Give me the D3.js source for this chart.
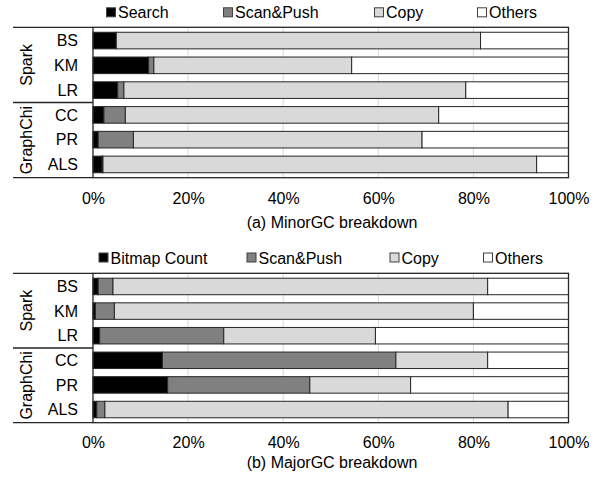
<!DOCTYPE html>
<html>
<head>
<meta charset="utf-8">
<script src="https://cdn.jsdelivr.net/npm/d3@7"></script>
<style>
  html, body { margin: 0; padding: 0; background: #fff; }
  svg { display: block; font-family: "Liberation Sans", Arial, sans-serif; }
</style>
</head>
<body>
<svg id="chart" width="597" height="480"></svg>
<script>
// Workloads, grouped by framework
const categories = ["BS", "KM", "LR", "CC", "PR", "ALS"];
const groupNames = ["Spark", "GraphChi"];
const groupMembers = [["BS", "KM", "LR"], ["CC", "PR", "ALS"]];
const tickValues = [0, 20, 40, 60, 80, 100];
const tickLabels = ["0%", "20%", "40%", "60%", "80%", "100%"];

// (a) MinorGC breakdown, percent of GC time
const minorSeries = ["Search", "Scan&Push", "Copy", "Others"];
const minorSearch   = [4.9, 11.7, 5.2, 2.3, 1.1, 1.9];
const minorScanPush = [0.0, 1.1, 1.3, 4.5, 7.4, 0.2];
const minorCopy     = [76.6, 41.6, 71.9, 65.9, 60.7, 91.2];
const minorOthers   = [18.5, 45.6, 21.6, 27.3, 30.8, 6.7];

// (b) MajorGC breakdown, percent of GC time
const majorSeries = ["Bitmap Count", "Scan&Push", "Copy", "Others"];
const majorBitmap   = [1.1, 0.5, 1.4, 14.6, 15.7, 0.8];
const majorScanPush = [3.1, 4.0, 26.1, 49.1, 29.9, 1.7];
const majorCopy     = [78.8, 75.5, 31.9, 19.3, 21.2, 84.8];
const majorOthers   = [17.0, 20.0, 40.6, 17.0, 33.2, 12.7];

const fills = ["#000000", "#808080", "#d9d9d9", "#ffffff"];
const edge = "#262626";

const svg = d3.select("#chart");
const x = d3.scaleLinear().domain([0, 100]).range([93, 568.5]);
const labelLeft = 13;

function panel(opts) {
  const { series, values, caption, top, bottom, legendY, legendX, tickY, captionY } = opts;
  const g = svg.append("g");
  const y = d3.scaleBand().domain(categories).range([top, bottom])
    .paddingInner(0.33).paddingOuter(0.2);

  // vertical gridlines
  g.append("g").selectAll("line").data(tickValues.slice(1, -1)).join("line")
    .attr("x1", d => x(d)).attr("x2", d => x(d))
    .attr("y1", top).attr("y2", bottom)
    .attr("stroke", "#d9d9d9").attr("stroke-width", 1);

  // stacked bars
  const rows = categories.map((c, i) => {
    let acc = 0;
    return values.map((arr, k) => {
      const seg = { cat: c, k, x0: acc, x1: acc + arr[i] };
      acc += arr[i];
      return seg;
    });
  }).flat();
  g.append("g").selectAll("rect").data(rows).join("rect")
    .attr("x", d => x(d.x0))
    .attr("width", d => Math.max(0, x(d.x1) - x(d.x0)))
    .attr("y", d => y(d.cat))
    .attr("height", y.bandwidth())
    .attr("fill", d => fills[d.k])
    .attr("stroke", edge).attr("stroke-width", 1);

  // frame of the plot and the label table lines
  g.append("rect")
    .attr("x", x(0)).attr("y", top)
    .attr("width", x(100) - x(0)).attr("height", bottom - top)
    .attr("fill", "none").attr("stroke", edge).attr("stroke-width", 1.3);
  const lastOfFirst = groupMembers[0][groupMembers[0].length - 1];
  const firstOfSecond = groupMembers[1][0];
  const sepY = (y(lastOfFirst) + y.bandwidth() + y(firstOfSecond)) / 2;
  g.append("g").selectAll("line").data([top, sepY, bottom]).join("line")
    .attr("x1", labelLeft).attr("x2", x(0))
    .attr("y1", d => d).attr("y2", d => d)
    .attr("stroke", edge).attr("stroke-width", 1.3);

  // category labels
  g.append("g").selectAll("text").data(categories).join("text")
    .attr("x", 78).attr("y", d => y(d) + y.bandwidth() / 2 + 5.8)
    .attr("text-anchor", "end").attr("font-size", 16).attr("fill", "#000")
    .text(d => d);

  // group labels, rotated
  const bounds = [[top, sepY], [sepY, bottom]];
  g.append("g").selectAll("text").data(groupNames).join("text")
    .attr("transform", (d, i) => `translate(31.5,${(bounds[i][0] + bounds[i][1]) / 2}) rotate(-90)`)
    .attr("text-anchor", "middle").attr("font-size", 16).attr("fill", "#000")
    .text(d => d);

  // x axis tick labels
  const axis = d3.axisBottom(x).tickValues(tickValues)
    .tickFormat((d, i) => tickLabels[i]).tickSize(0).tickPadding(0);
  const ax = g.append("g").attr("transform", `translate(0,${tickY})`).call(axis);
  ax.select(".domain").remove();
  ax.selectAll("text").attr("font-size", 16).attr("font-family", null)
    .attr("fill", "#000").attr("dy", 0).attr("y", 0);

  // legend
  const leg = g.append("g").selectAll("g").data(series).join("g")
    .attr("transform", (d, i) => `translate(${legendX[i]},${legendY})`);
  leg.append("rect").attr("x", 0.5).attr("y", -4.5).attr("width", 9).attr("height", 9)
    .attr("fill", (d, i) => fills[i]).attr("stroke", "#404040").attr("stroke-width", 1);
  leg.append("text").attr("x", 12).attr("y", 6).attr("font-size", 16).attr("fill", "#000")
    .text(d => d);

  // caption
  g.append("text").attr("x", 332).attr("y", captionY)
    .attr("text-anchor", "middle").attr("font-size", 16).attr("fill", "#000")
    .text(caption);
}

panel({
  series: minorSeries,
  values: [minorSearch, minorScanPush, minorCopy, minorOthers],
  caption: "(a) MinorGC breakdown",
  top: 27.3, bottom: 177.7,
  legendY: 12.3, legendX: [106, 223, 374, 477],
  tickY: 204, captionY: 228
});

panel({
  series: majorSeries,
  values: [majorBitmap, majorScanPush, majorCopy, majorOthers],
  caption: "(b) MajorGC breakdown",
  top: 273.3, bottom: 422.7,
  legendY: 257.5, legendX: [98.5, 246.5, 389.5, 483],
  tickY: 448, captionY: 468
});
</script>
</body>
</html>
